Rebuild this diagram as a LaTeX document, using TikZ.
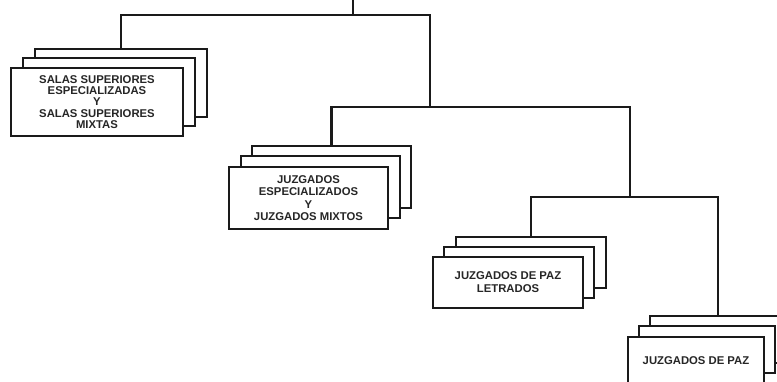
\documentclass[tikz,border=0pt]{standalone}
\usepackage{fontspec}
\newfontfamily\lblfont{Liberation Sans}
\definecolor{ink}{HTML}{1A1A1A}
\definecolor{txt}{HTML}{262626}
\tikzset{
  card/.style={draw=ink, fill=white, line width=2.1pt, inner sep=0pt, outer sep=0pt, anchor=north west},
  cardtext/.style={card, align=center, text=txt, font=\lblfont\bfseries\fontsize{11.3}{11.2}\selectfont},
  link/.style={draw=ink, line width=2.1pt}
}
\begin{document}
\begin{tikzpicture}[x=1pt,y=-1pt]
\useasboundingbox (0,0) rectangle (777,381);
\clip (0,0) rectangle (777,381);
% group 1
\node[card, minimum width=172pt, minimum height=68pt] (s1b) at (35,49) {};
\node[card, minimum width=172pt, minimum height=68pt] (s1m) at (23,58) {};
\node[cardtext, minimum width=172pt, minimum height=68pt] (s1) at (11,68) {SALAS SUPERIORES\\ESPECIALIZADAS\\Y\\SALAS SUPERIORES\\MIXTAS};
% group 2
\node[card, minimum width=159pt, minimum height=62pt] (s2b) at (252,146) {};
\node[card, minimum width=159pt, minimum height=62pt] (s2m) at (241,156) {};
\node[cardtext, minimum width=159pt, minimum height=62pt, font=\lblfont\bfseries\fontsize{11.3}{12.4}\selectfont] (s2) at (229,167) {JUZGADOS\\ESPECIALIZADOS\\Y\\JUZGADOS MIXTOS};
% group 3
\node[card, minimum width=150pt, minimum height=51pt] (s3b) at (456,237) {};
\node[card, minimum width=150pt, minimum height=51pt] (s3m) at (444,247) {};
\node[cardtext, minimum width=150pt, minimum height=51pt, font=\lblfont\bfseries\fontsize{11.3}{13}\selectfont] (s3) at (433,257) {JUZGADOS DE PAZ\\LETRADOS};
% group 4
\node[card, minimum width=136pt, minimum height=47pt] (s4b) at (650,316) {};
\node[card, minimum width=136pt, minimum height=47pt] (s4m) at (639,326) {};
\node[cardtext, minimum width=136pt, minimum height=47pt] (s4) at (628,337) {JUZGADOS DE PAZ};
% connectors
\coordinate (top) at (353,0);
\coordinate (j1) at (353,15);
\coordinate (c1) at (430,15);
\coordinate (k1) at (430,107);
\coordinate (c2) at (630,107);
\coordinate (k2) at (630,197);
\coordinate (c3) at (718,197);
\draw[link] (top) -- (j1);
\draw[link] (s1b.north) |- (c1) -- (k1);
\draw[link] (s2b.north) |- (c2) -- (k2);
\draw[link] (s3b.north) |- (c3) -- (s4b.north);
\end{tikzpicture}
\end{document}
